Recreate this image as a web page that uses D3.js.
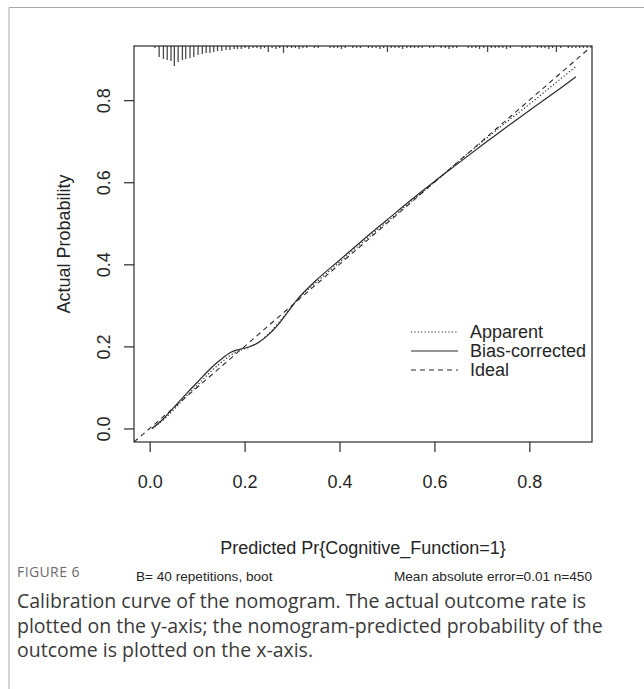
<!DOCTYPE html>
<html>
<head>
<meta charset="utf-8">
<script src="https://cdn.jsdelivr.net/npm/d3@7"></script>
<style>
	body { margin: 0; background: #fff; }
	svg { display: block; }
	.tick text, .r-text { font-family: 'Liberation Sans', Arial, sans-serif; fill: #262626; }
	.caption { font-family: 'Open Sans', 'Noto Sans', sans-serif; }
</style>
</head>
<body>
<svg id="chart-svg" width="644" height="689"></svg>
<script>
// calibration curve data
const predicted = [ 0.005, 0.03, 0.05, 0.08, 0.1, 0.13, 0.15, 0.17, 0.19, 0.21, 0.23, 0.25, 0.27, 0.29, 0.31, 0.35, 0.4, 0.45, 0.5, 0.55, 0.6, 0.65, 0.7, 0.75, 0.8, 0.85, 0.898 ];
const apparent = [ 0.0, 0.022, 0.045, 0.082, 0.105, 0.14, 0.16, 0.178, 0.19, 0.198, 0.21, 0.23, 0.255, 0.283, 0.312, 0.355, 0.405, 0.455, 0.503, 0.552, 0.6, 0.65, 0.698, 0.745, 0.79, 0.837, 0.882 ];
const biasCorrected = [ 0.0, 0.025, 0.05, 0.088, 0.112, 0.148, 0.168, 0.185, 0.193, 0.199, 0.21, 0.228, 0.252, 0.282, 0.313, 0.36, 0.41, 0.46, 0.508, 0.556, 0.602, 0.646, 0.69, 0.733, 0.775, 0.816, 0.857 ];

// distribution of predicted risk (spike histogram on top axis)
const rugProbs = [
	0.011, 0.02, 0.029, 0.037, 0.045, 0.052, 0.06, 0.069, 0.076, 0.085, 0.093, 0.102, 0.111, 0.119, 0.127, 0.135,
	0.143, 0.152, 0.161, 0.169, 0.178, 0.185, 0.193, 0.201, 0.209, 0.218, 0.226, 0.234, 0.242, 0.25, 0.258, 0.266,
	0.274, 0.282, 0.29, 0.299, 0.307, 0.315, 0.323, 0.331, 0.347, 0.355, 0.38, 0.388, 0.396, 0.404, 0.412, 0.428,
	0.436, 0.444, 0.461, 0.469, 0.477, 0.485, 0.493, 0.501, 0.509, 0.517, 0.525, 0.533, 0.542, 0.55, 0.558, 0.566,
	0.574, 0.59, 0.598, 0.614, 0.623, 0.631, 0.639, 0.647, 0.671, 0.679, 0.687, 0.695, 0.704, 0.712, 0.72, 0.728,
	0.736, 0.744, 0.752, 0.76, 0.785, 0.793, 0.801, 0.817, 0.825, 0.833, 0.841, 0.849, 0.857, 0.866, 0.882, 0.89,
	0.898, 0.906, 0.914, 0.922
];
const rugCounts = [
	2, 11, 13, 14, 15, 20, 16, 14, 13, 12, 11, 9, 8, 7, 7, 6,
	5, 5, 4, 4, 3, 3, 3, 2, 3, 2, 2, 3, 2, 6, 2, 3,
	2, 7, 2, 2, 2, 3, 2, 2, 2, 2, 2, 2, 2, 3, 2, 2,
	2, 2, 2, 2, 2, 3, 2, 6, 2, 2, 2, 3, 2, 2, 2, 2,
	2, 2, 2, 2, 2, 3, 2, 2, 2, 2, 2, 3, 2, 6, 2, 2,
	2, 2, 3, 2, 2, 2, 2, 2, 2, 2, 3, 2, 6, 2, 2, 2,
	2, 2, 2, 2
];

const xTicks = [ 0, 0.2, 0.4, 0.6, 0.8 ];
const yTicks = [ 0, 0.2, 0.4, 0.6, 0.8 ];
const legendLabels = [ 'Apparent', 'Bias-corrected', 'Ideal' ];
const LIMITS = [ -0.033, 0.932 ];

const PLOT = { left: 134, top: 46, right: 592, bottom: 442 };
const INK = '#2b2b2b';
const DASH = { Apparent: '1.2,2.2', 'Bias-corrected': null, Ideal: '5,4' };
const FONT = 18; // cex = 1
const SUB_FONT = 13.6; // cex.subtitles = .75

const svg = d3.select('#chart-svg');

// figure frame
svg.append('path').attr('d', 'M9,689V7.5H644').attr('fill', 'none').attr('stroke', '#a8a8a8').attr('stroke-width', 1);

const xScale = d3.scaleLinear().domain(LIMITS).range([ PLOT.left, PLOT.right ]);
const yScale = d3.scaleLinear().domain(LIMITS).range([ PLOT.bottom, PLOT.top ]);
const rugScale = d3.scaleLinear().domain([ 0, 20 ]).range([ 0, 20 ]);

svg
	.append('clipPath')
	.attr('id', 'plot-clip')
	.append('rect')
	.attr('x', PLOT.left)
	.attr('y', PLOT.top)
	.attr('width', PLOT.right - PLOT.left)
	.attr('height', PLOT.bottom - PLOT.top);

// axes
const xAxis = d3.axisBottom(xScale).tickValues(xTicks).tickFormat(d3.format('.1f')).tickSizeOuter(0).tickSize(10).tickPadding(23);
const xAxisG = svg.append('g').attr('transform', 'translate(0,' + PLOT.bottom + ')').call(xAxis);
xAxisG.select('.domain').remove();
xAxisG.selectAll('.tick line').attr('stroke', INK).attr('stroke-width', 1.2);
xAxisG.selectAll('.tick text').attr('font-size', FONT).attr('dy', '0.71em');

const yAxis = d3.axisLeft(yScale).tickValues(yTicks).tickFormat(d3.format('.1f')).tickSizeOuter(0).tickSize(10);
const yAxisG = svg.append('g').attr('transform', 'translate(' + PLOT.left + ',0)').call(yAxis);
yAxisG.select('.domain').remove();
yAxisG.selectAll('.tick line').attr('stroke', INK).attr('stroke-width', 1.2);
yAxisG
	.selectAll('.tick text')
	.attr('font-size', FONT)
	.attr('x', null)
	.attr('dy', null)
	.attr('text-anchor', 'middle')
	.attr('transform', 'translate(-24,0) rotate(-90)');

svg
	.append('text')
	.attr('class', 'r-text')
	.attr('font-size', FONT)
	.attr('text-anchor', 'middle')
	.attr('transform', 'translate(70,' + (PLOT.top + PLOT.bottom) / 2 + ') rotate(-90)')
	.text('Actual Probability');
svg
	.append('text')
	.attr('class', 'r-text')
	.attr('font-size', FONT)
	.attr('text-anchor', 'middle')
	.attr('x', (PLOT.left + PLOT.right) / 2)
	.attr('y', 554)
	.text('Predicted Pr{Cognitive_Function=1}');
svg
	.append('text')
	.attr('class', 'r-text')
	.attr('font-size', SUB_FONT)
	.attr('x', PLOT.left + 2)
	.attr('y', 581)
	.text('B= 40 repetitions, boot');
svg
	.append('text')
	.attr('class', 'r-text')
	.attr('font-size', SUB_FONT)
	.attr('text-anchor', 'end')
	.attr('x', PLOT.right)
	.attr('y', 581)
	.text('Mean absolute error=0.01 n=450');

// spike histogram hanging from the top of the box
const rugData = rugProbs.map((p, i) => ({ p: p, n: rugCounts[i] }));
svg
	.append('g')
	.selectAll('line')
	.data(rugData)
	.enter()
	.append('line')
	.attr('x1', (d) => xScale(d.p))
	.attr('x2', (d) => xScale(d.p))
	.attr('y1', PLOT.top)
	.attr('y2', (d) => PLOT.top + rugScale(d.n))
	.attr('stroke', '#4a4a4a')
	.attr('stroke-width', 1.3);

// curves
const plotG = svg.append('g').attr('clip-path', 'url(#plot-clip)');
const line = d3.line().x((d) => xScale(d[0])).y((d) => yScale(d[1])).curve(d3.curveMonotoneX);

plotG
	.append('path')
	.datum(LIMITS.map((v) => [ v, v ]))
	.attr('d', d3.line().x((d) => xScale(d[0])).y((d) => yScale(d[1])))
	.attr('fill', 'none')
	.attr('stroke', INK)
	.attr('stroke-width', 1.1)
	.attr('stroke-dasharray', DASH.Ideal);
plotG
	.append('path')
	.datum(predicted.map((p, i) => [ p, apparent[i] ]))
	.attr('d', line)
	.attr('fill', 'none')
	.attr('stroke', INK)
	.attr('stroke-width', 1.2)
	.attr('stroke-dasharray', DASH.Apparent);
plotG
	.append('path')
	.datum(predicted.map((p, i) => [ p, biasCorrected[i] ]))
	.attr('d', line)
	.attr('fill', 'none')
	.attr('stroke', INK)
	.attr('stroke-width', 1.2);

// box
svg
	.append('rect')
	.attr('x', PLOT.left)
	.attr('y', PLOT.top)
	.attr('width', PLOT.right - PLOT.left)
	.attr('height', PLOT.bottom - PLOT.top)
	.attr('fill', 'none')
	.attr('stroke', INK)
	.attr('stroke-width', 1.2);

// legend
const legendG = svg.append('g').attr('transform', 'translate(411,332)');
const legendRows = legendG
	.selectAll('g')
	.data(legendLabels)
	.enter()
	.append('g')
	.attr('transform', (d, i) => 'translate(0,' + i * 19 + ')');
legendRows
	.append('line')
	.attr('x1', 0)
	.attr('x2', 47)
	.attr('stroke', INK)
	.attr('stroke-width', 1.2)
	.attr('stroke-dasharray', (d) => DASH[d]);
legendRows
	.append('text')
	.attr('class', 'r-text')
	.attr('font-size', FONT)
	.attr('x', 59)
	.attr('dy', '0.36em')
	.text((d) => d);

// caption
const caption = svg.append('g').attr('class', 'caption');
caption
	.append('text')
	.attr('x', 17)
	.attr('y', 577)
	.attr('font-size', 14)
	.attr('letter-spacing', 0.4)
	.attr('fill', '#6b6b6b')
	.text('FIGURE 6');
const captionLines = [
	'Calibration curve of the nomogram. The actual outcome rate is',
	'plotted on the y-axis; the nomogram-predicted probability of the',
	'outcome is plotted on the x-axis.'
];
caption
	.selectAll('text.line')
	.data(captionLines)
	.enter()
	.append('text')
	.attr('class', 'line')
	.attr('x', 17)
	.attr('y', (d, i) => 608 + i * 24.5)
	.attr('font-size', 19.5)
	.attr('fill', '#3a3a3a')
	.text((d) => d);
</script>
</body>
</html>
